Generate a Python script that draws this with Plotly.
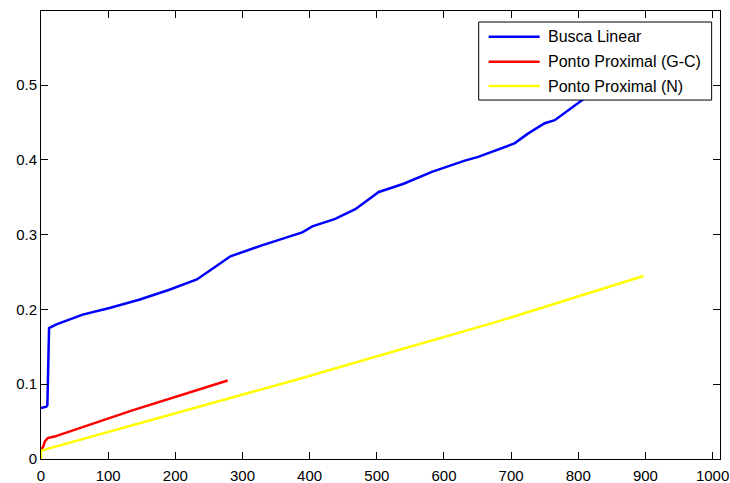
import plotly.graph_objects as go

# Busca Linear (blue)
blue_x = [0, 8, 9.5, 10.4, 12, 23, 62, 102, 146, 190, 232, 258, 282, 330, 389, 404, 438, 468, 503, 540, 582, 631, 651, 705, 725, 750, 765, 809, 850, 900, 950, 985]
blue_y = [0.068, 0.070, 0.072, 0.130, 0.175, 0.180, 0.193, 0.202, 0.213, 0.226, 0.240, 0.256, 0.271, 0.286, 0.303, 0.311, 0.321, 0.334, 0.357, 0.368, 0.384, 0.399, 0.404, 0.422, 0.435, 0.449, 0.453, 0.482, 0.505, 0.530, 0.555, 0.572]

# Ponto Proximal (G-C) (red)
red_x = [0, 3, 6, 10, 20, 136, 278]
red_y = [0.013, 0.016, 0.024, 0.028, 0.030, 0.065, 0.105]

# Ponto Proximal (N) (yellow)
yel_x = [0, 0, 3, 384, 503, 681, 897]
yel_y = [0.0, 0.010, 0.012, 0.107, 0.138, 0.184, 0.2446]

names = ["Busca Linear", "Ponto Proximal (G-C)", "Ponto Proximal (N)"]
colors = ["#0000FF", "#FF0000", "#FFFF00"]

x_ticks = list(range(0, 1001, 100))
y_ticks = [0, 0.1, 0.2, 0.3, 0.4, 0.5]
y_ticktext = ["0", "0.1", "0.2", "0.3", "0.4", "0.5"]

fig = go.Figure()
for xs, ys, nm, c in zip([blue_x, red_x, yel_x], [blue_y, red_y, yel_y], names, colors):
    fig.add_trace(go.Scatter(x=xs, y=ys, mode="lines", name=nm,
                             line=dict(color=c, width=2.5), showlegend=False))

FONT = "Liberation Sans, Arial, sans-serif"

fig.update_layout(
    width=730, height=483,
    margin=dict(l=41, r=10, t=11, b=24, autoexpand=False),
    paper_bgcolor="white", plot_bgcolor="white",
    font=dict(family=FONT, size=15, color="black"),
    xaxis=dict(range=[0, 1011], tickvals=x_ticks, ticks="inside", ticklen=7,
               tickcolor="black", showline=True, linecolor="black", linewidth=1,
               mirror="ticks", showgrid=False, zeroline=False, automargin=False,
               ticklabelstandoff=3),
    yaxis=dict(range=[0, 0.599], tickvals=y_ticks, ticktext=y_ticktext,
               ticks="inside", ticklen=7, tickcolor="black", showline=True,
               linecolor="black", linewidth=1, mirror="ticks", showgrid=False,
               zeroline=False, automargin=False),
)

# Manual MATLAB-style legend box
x0, x1 = 0.6446, 0.9877
y0, y1 = 0.8012, 0.9754
fig.add_shape(type="rect", xref="paper", yref="paper", x0=x0, x1=x1, y0=y0, y1=y1,
              line=dict(color="black", width=1), fillcolor="white", layer="above")
rows = [0.9426, 0.8868, 0.8325]
for yy, nm, c in zip(rows, names, colors):
    fig.add_shape(type="line", xref="paper", yref="paper", x0=0.6593, x1=0.7344,
                  y0=yy, y1=yy, line=dict(color=c, width=2.5), layer="above")
    fig.add_annotation(xref="paper", yref="paper", x=0.7433, y=yy, text=nm,
                       showarrow=False, xanchor="left", yanchor="middle",
                       font=dict(family=FONT, size=16, color="black"))

fig.write_html("out.html")
